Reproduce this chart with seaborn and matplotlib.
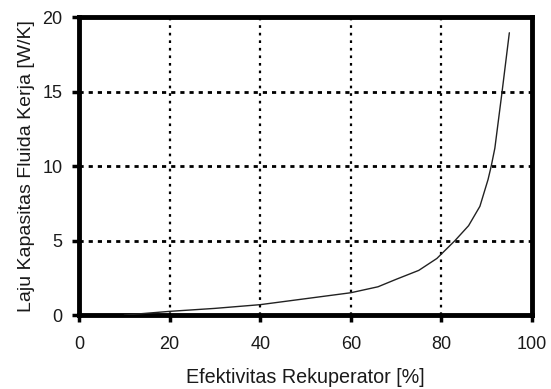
import matplotlib
matplotlib.use("Agg")
import matplotlib.pyplot as plt
import seaborn as sns
import pandas as pd

efektivitas = [10, 20, 30, 40, 50, 60, 66, 70, 75, 79, 81, 83, 86, 88.5, 90.3, 91, 91.8, 93.4, 95]
laju = [0.0, 0.25, 0.45, 0.7, 1.1, 1.5, 1.9, 2.4, 3.0, 3.8, 4.4, 5.0, 6.0, 7.3, 9.1, 10.0, 11.2, 15.0, 18.95]
x_ticks = [0, 20, 40, 60, 80, 100]
y_ticks = [0, 5, 10, 15, 20]

sns.set_style("white")
plt.rcParams['font.family'] = ['Liberation Sans', 'DejaVu Sans']

df = pd.DataFrame({"x": efektivitas, "y": laju})

fig = plt.figure(figsize=(5.51, 3.89), dpi=100)
ax = fig.add_axes([0.1434, 0.190, 0.8221, 0.766])

for xv in [20, 40, 60, 80]:
    ax.axvline(xv, color="black", lw=1.6, linestyle=(0, (1.2, 2.2)), zorder=1)
for yv in [5, 10, 15]:
    ax.axhline(yv, color="black", lw=2.0, linestyle=(0, (1.5, 1.8)), zorder=1)

sns.lineplot(data=df, x="x", y="y", ax=ax, color="#222222", lw=1.0, zorder=3)

ax.set_xlim(0, 100)
ax.set_ylim(0, 20)
ax.set_xticks(x_ticks)
ax.set_yticks(y_ticks)
for s in ax.spines.values():
    s.set_visible(True)
    s.set_linewidth(3.5)
    s.set_color("black")
ax.tick_params(axis="both", direction="out", length=5, width=2.5, color="black",
               labelsize=13, labelcolor="#1a1a1a", left=True, bottom=True)
ax.tick_params(axis="x", pad=10)
ax.tick_params(axis="y", pad=7)
ax.set_xlabel("Efektivitas Rekuperator [%]", fontsize=14.2, color="#1a1a1a", labelpad=11)
ax.set_ylabel("Laju Kapasitas Fluida Kerja [W/K]", fontsize=14, color="#1a1a1a", labelpad=5)

fig.savefig("out.png", dpi=100)
